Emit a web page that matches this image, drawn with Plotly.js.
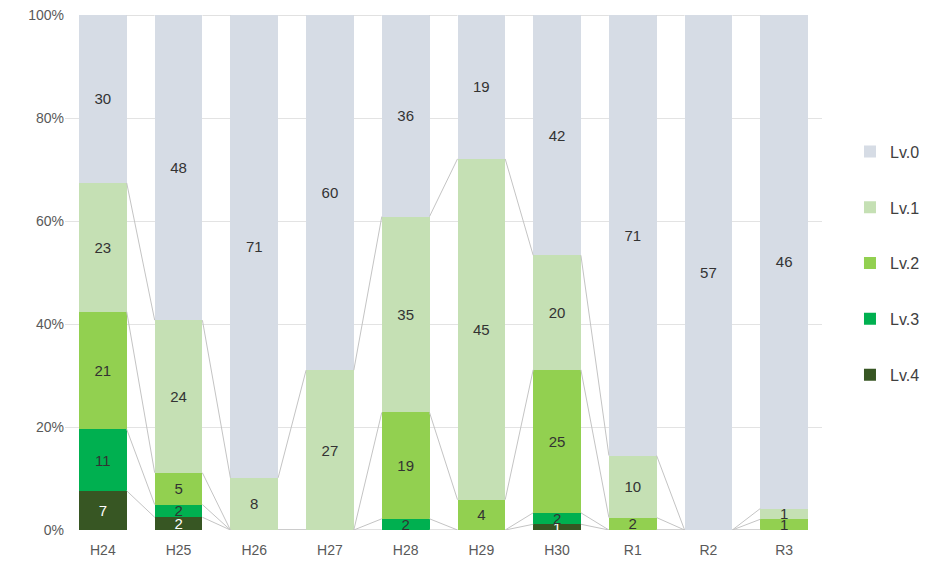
<!DOCTYPE html>
<html><head><meta charset="utf-8">
<script src="https://cdn.plot.ly/plotly-3.0.1.min.js"></script>
<style>html,body{margin:0;padding:0;background:#fff}#chart{width:932px;height:563px}</style>
</head><body><div id="chart"></div>
<script>
const years = ['H24','H25','H26','H27','H28','H29','H30','R1','R2','R3'];
const lv0 = [30,48,71,60,36,19,42,71,57,46];
const lv1 = [23,24,8,27,35,45,20,10,0,1];
const lv2 = [21,5,0,0,19,4,25,2,0,1];
const lv3 = [11,2,0,0,2,0,2,0,0,0];
const lv4 = [7,2,0,0,0,0,1,0,0,0];
const levelNames = ['Lv.4','Lv.3','Lv.2','Lv.1','Lv.0'];
const levelColors = ['#375623','#00B050','#92D050','#C5E0B4','#D6DCE5'];
const labelColors = ['#ffffff','#333333','#333333','#333333','#333333'];
const yTicks = [0,20,40,60,80,100];
const yTickText = ['0%','20%','40%','60%','80%','100%'];

const series = [lv4, lv3, lv2, lv1, lv0];
const xs = years.map((y, i) => i);
const W = 0.63;
const FONT = 'Liberation Sans, Arial, sans-serif';

const traces = [];
series.forEach((vals, k) => {
  traces.push({
    type: 'bar', x: xs, y: vals, name: levelNames[k], width: W,
    marker: {color: levelColors[k], line: {width: 0}},
    text: vals.map(v => v ? String(v) : ''), textposition: 'inside',
    insidetextanchor: 'middle', constraintext: 'none', textangle: 0,
    textfont: {family: FONT, size: 15, color: labelColors[k]},
    legendgroup: 'g' + k, legendrank: 1000 - k, hoverinfo: 'skip'
  });
});

// series lines connecting the top of each stacked level between neighbouring bars
const totals = years.map((y, i) => series.reduce((s, a) => s + a[i], 0));
const cum = [];
series.forEach((vals, k) => {
  cum.push(years.map((y, i) => (k ? cum[k-1][i] : 0) + vals[i]));
});
cum.forEach((c, k) => {
  const lx = [], ly = [];
  for (let i = 0; i < years.length - 1; i++) {
    lx.push(i + W/2, i + 1 - W/2, null);
    ly.push(100 * c[i] / totals[i], 100 * c[i+1] / totals[i+1], null);
  }
  traces.push({type: 'scatter', mode: 'lines', x: lx, y: ly, showlegend: false,
    line: {color: '#c4c4c4', width: 1}, hoverinfo: 'skip', cliponaxis: false});
});

const layout = {
  width: 932, height: 563,
  margin: {l: 65, r: 110, t: 15, b: 33},
  barmode: 'stack', barnorm: 'percent',
  paper_bgcolor: '#fff', plot_bgcolor: '#fff',
  font: {family: FONT, size: 14, color: '#595959'},
  xaxis: {range: [-0.5, 9.5], tickmode: 'array', tickvals: xs, ticktext: years, showgrid: false,
    zeroline: false, showline: false, ticks: 'outside', ticklen: 7, tickcolor: 'rgba(0,0,0,0)',
    tickfont: {family: FONT, size: 14, color: '#595959'}, fixedrange: true, automargin: false},
  yaxis: {range: [0, 100], tickmode: 'array', tickvals: yTicks, ticktext: yTickText,
    showgrid: true, gridcolor: '#e3e3e3', gridwidth: 1, zeroline: false, showline: false,
    tickfont: {family: FONT, size: 14, color: '#595959'}, fixedrange: true, automargin: false},
  showlegend: true,
  legend: {xref: 'container', yref: 'container', x: 0.912, xanchor: 'left', y: 0.761, yanchor: 'top',
    traceorder: 'grouped', tracegroupgap: 32,
    font: {family: FONT, size: 16, color: '#404040'}, bgcolor: 'rgba(0,0,0,0)'}
};

Plotly.newPlot('chart', traces, layout, {displayModeBar: false, staticPlot: true});
</script></body></html>
